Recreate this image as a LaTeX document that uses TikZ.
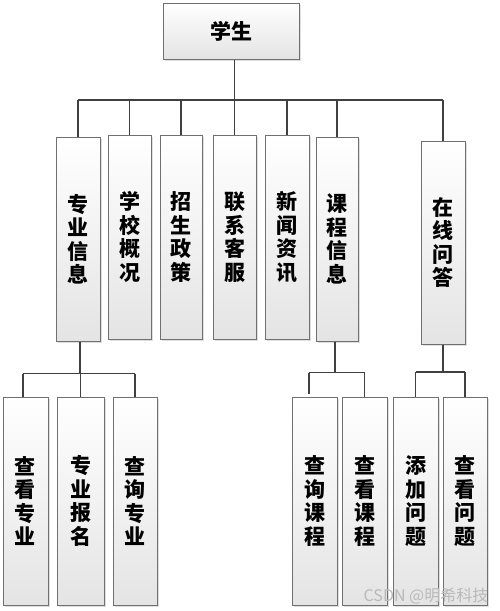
\documentclass[tikz,border=0pt]{standalone}
\usepackage{fontspec}
\newfontfamily\cjk{Noto Sans CJK SC}
\usetikzlibrary{shadows}
\definecolor{linec}{HTML}{404040}
\definecolor{boxline}{HTML}{707070}
\definecolor{boxbot}{HTML}{E4E4E4}
\tikzset{
  box/.style={draw=boxline, line width=1pt, top color=white, bottom color=boxbot,
    drop shadow={shadow xshift=1.5pt, shadow yshift=-1.5pt, opacity=0.25},
    inner sep=0pt, align=center,
    font=\cjk\bfseries\fontsize{21}{23.5}\selectfont},
  conn/.style={draw=linec, line width=1.2pt}
}
\begin{document}
\begin{tikzpicture}[x=1pt,y=-1pt]
\useasboundingbox (0,0) rectangle (499,611);
\fill[white] (0,0) rectangle (499,611);
% root
\node[box, minimum width=136pt, minimum height=56pt] (root) at (231,31) {学生};
% second row
\node[box, minimum width=44pt, minimum height=204pt] (zy) at (78,239) {专\\业\\信\\息};
\node[box, minimum width=43pt, minimum height=204pt] (xx) at (129.5,237) {学\\校\\概\\况};
\node[box, minimum width=42pt, minimum height=204pt] (zs) at (181,237) {招\\生\\政\\策};
\node[box, minimum width=43pt, minimum height=204pt] (lx) at (234.5,237) {联\\系\\客\\服};
\node[box, minimum width=44pt, minimum height=204pt] (xw) at (287,237) {新\\闻\\资\\讯};
\node[box, minimum width=42pt, minimum height=204pt] (kc) at (337,239) {课\\程\\信\\息};
\node[box, minimum width=44pt, minimum height=203pt] (zx) at (443,242.5) {在\\线\\问\\答};
% third row
\node[box, minimum width=45pt, minimum height=208pt] (a1) at (25.5,501) {查\\看\\专\\业};
\node[box, minimum width=47pt, minimum height=208pt] (a2) at (80.5,501) {专\\业\\报\\名};
\node[box, minimum width=44pt, minimum height=208pt] (a3) at (135,501) {查\\询\\专\\业};
\node[box, minimum width=45pt, minimum height=208pt] (c1) at (314.5,501) {查\\询\\课\\程};
\node[box, minimum width=45pt, minimum height=208pt] (c2) at (364.5,501) {查\\看\\课\\程};
\node[box, minimum width=45pt, minimum height=208pt] (q1) at (415.5,501) {添\\加\\问\\题};
\node[box, minimum width=44pt, minimum height=208pt] (q2) at (465,501) {查\\看\\问\\题};
% bus coordinates
\coordinate (bus1) at (0,100);
\coordinate (bus2) at (0,373.5);
\coordinate (bus3) at (0,372.5);
\coordinate (bus4) at (0,372);
% connectors top level
\draw[conn] (lx.north |- root.south) -- (lx.north);
\draw[conn] (zy.north |- bus1) -- (zx.north |- bus1);
\foreach \n in {zy,xx,zs,xw,kc,zx}{\draw[conn] (\n.north |- bus1) -- (\n.north);}
% left group
\draw[conn] ([xshift=2pt]zy.south) -- ([xshift=2pt]zy.south |- bus2);
\draw[conn] ([xshift=-2.5pt]a1.north |- bus2) -- (a3.north |- bus2);
\draw[conn] ([xshift=-2.5pt]a1.north |- bus2) -- ([xshift=-2.5pt]a1.north);
\draw[conn] (a2.north |- bus2) -- (a2.north);
\draw[conn] (a3.north |- bus2) -- (a3.north);
% course group
\draw[conn] ([xshift=-2pt]kc.south) -- ([xshift=-2pt]kc.south |- bus3);
\draw[conn] ([xshift=-5.5pt]c1.north |- bus3) -- (c2.north |- bus3);
\draw[conn] ([xshift=-5.5pt]c1.north |- bus3) -- ([xshift=-5.5pt,yshift=3pt]c1.north);
\draw[conn] (c2.north |- bus3) -- (c2.north);
% qa group
\draw[conn] (zx.south) -- (zx.south |- bus4);
\draw[conn] (q1.north |- bus4) -- (q2.north |- bus4);
\draw[conn] (q1.north |- bus4) -- (q1.north);
\draw[conn] (q2.north |- bus4) -- (q2.north);
% watermark
\node[anchor=center, text=gray!55, font=\cjk\fontsize{16}{16}\selectfont, inner sep=0pt] (wm) at (426,596) {CSDN @明希科技};
\end{tikzpicture}
\end{document}
